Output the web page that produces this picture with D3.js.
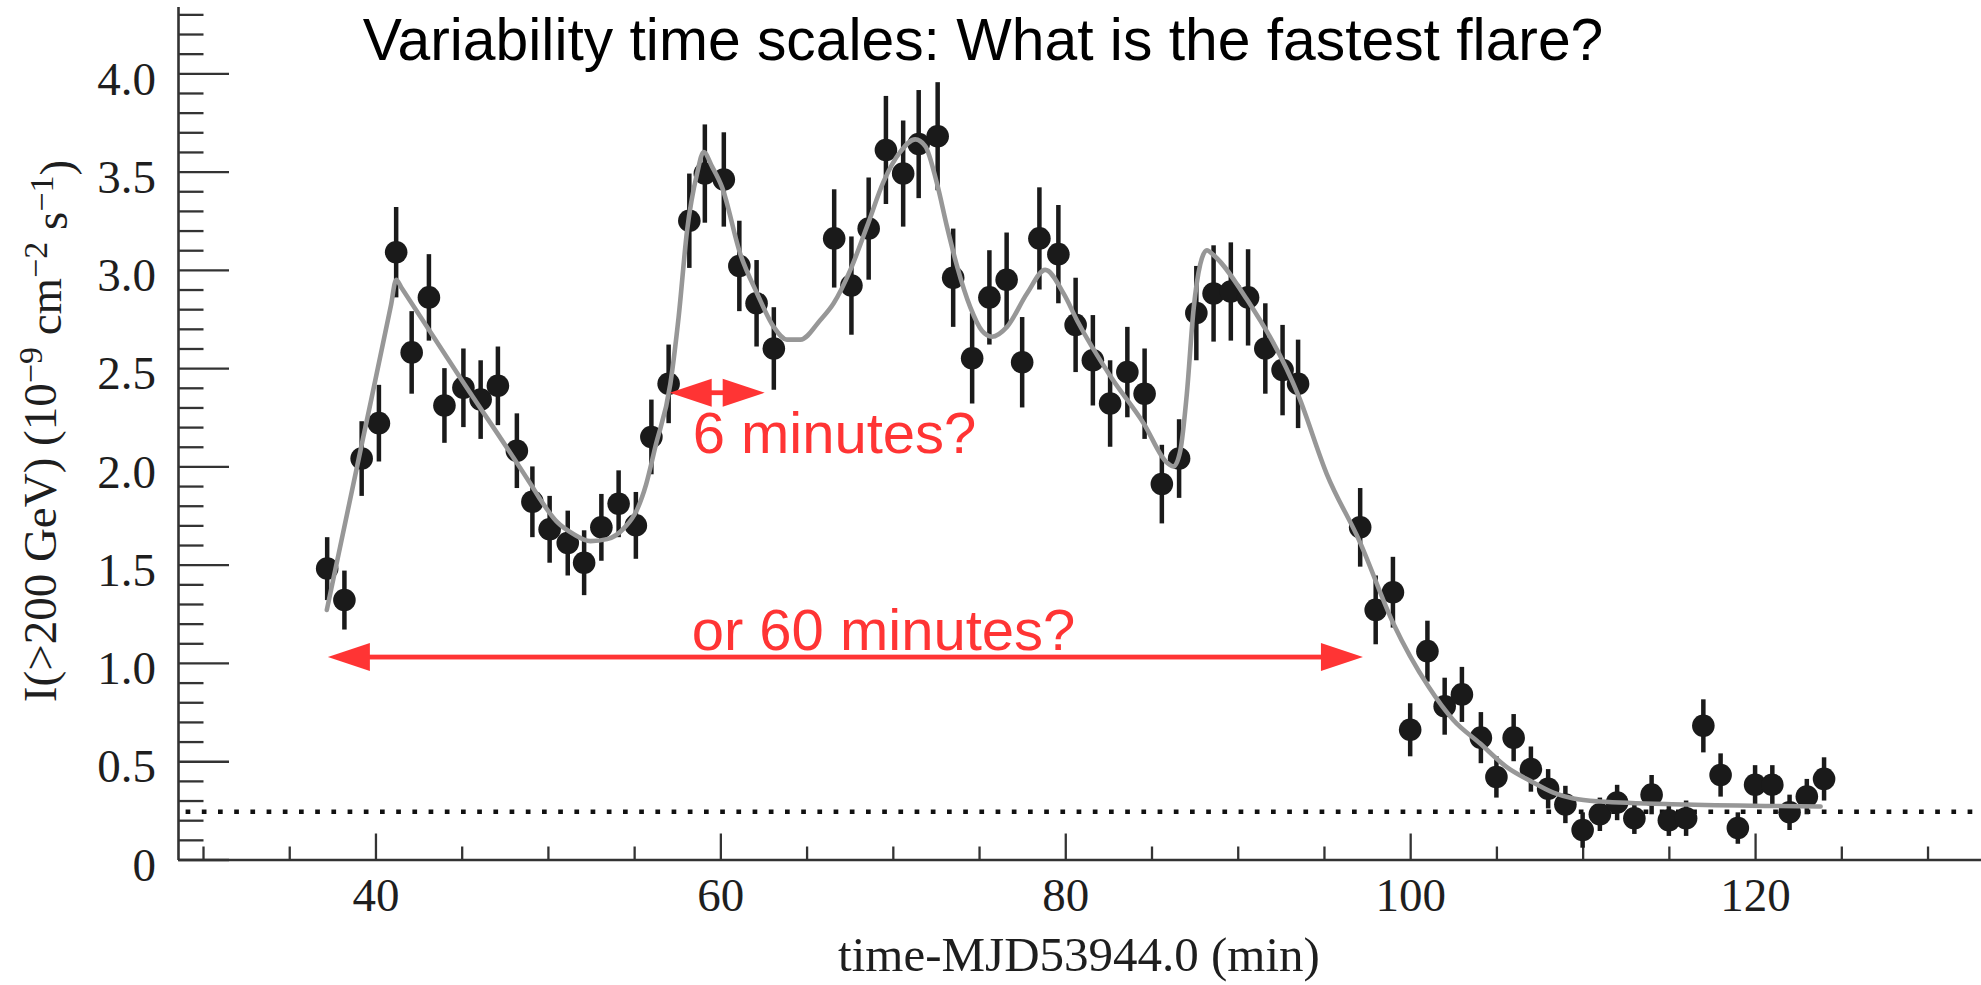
<!DOCTYPE html>
<html>
<head>
<meta charset="utf-8">
<script src="https://cdn.jsdelivr.net/npm/d3@7"></script>
<style>
  html, body { margin: 0; padding: 0; background: #fff; }
  svg { display: block; }
</style>
</head>
<body>
<svg id="chart" width="1981" height="985"></svg>
<script>
// One-minute binned integral flux above 200 GeV
const times = [
  37.2, 38.2, 39.2, 40.2, 41.2, 42.1, 43.1, 44.0, 45.1, 46.1, 47.1, 48.2, 49.1, 50.1,
  51.15, 52.1, 53.1, 54.1, 55.1, 56.0, 57.0, 58.2, 59.1, 60.2, 61.1, 62.1, 63.1,
  66.6, 67.6, 68.6, 69.6, 70.6, 71.5, 72.6, 73.5, 74.6, 75.6, 76.6, 77.5, 78.5, 79.6, 80.6,
  81.6, 82.6, 83.6, 84.6, 85.6, 86.6, 87.6, 88.6, 89.6, 90.6, 91.6, 92.6, 93.5,
  97.1, 98.0, 99.0, 100.0, 101.0, 102.0, 103.0, 104.1, 105.0, 106.0, 107.0, 108.0, 109.0, 110.0,
  111.0, 112.0, 113.0, 114.0, 115.0, 116.0, 117.0, 118.0, 119.0, 120.0, 121.0, 122.0, 123.0, 124.0
];
const flux = [
  1.48, 1.32, 2.04, 2.22, 3.09, 2.58, 2.86, 2.31, 2.40, 2.34, 2.41, 2.08, 1.82, 1.68,
  1.61, 1.51, 1.69, 1.81, 1.70, 2.15, 2.42, 3.25, 3.49, 3.46, 3.02, 2.83, 2.60,
  3.16, 2.92, 3.21, 3.61, 3.49, 3.64, 3.68, 2.96, 2.55, 2.86, 2.95, 2.53, 3.16, 3.08, 2.72,
  2.54, 2.32, 2.48, 2.37, 1.91, 2.04, 2.78, 2.88, 2.89, 2.86, 2.60, 2.49, 2.42,
  1.69, 1.27, 1.36, 0.66, 1.06, 0.78, 0.84, 0.62, 0.42, 0.62, 0.46, 0.36, 0.28, 0.15,
  0.23, 0.29, 0.21, 0.33, 0.20, 0.21, 0.68, 0.43, 0.16, 0.38, 0.38, 0.24, 0.32, 0.41
];
const fluxErr = [
  0.16, 0.15, 0.19, 0.195, 0.23, 0.21, 0.22, 0.19, 0.20, 0.20, 0.20, 0.19, 0.18, 0.17,
  0.165, 0.165, 0.17, 0.17, 0.17, 0.19, 0.20, 0.24, 0.25, 0.24, 0.23, 0.22, 0.21,
  0.25, 0.25, 0.26, 0.275, 0.27, 0.275, 0.275, 0.25, 0.23, 0.24, 0.24, 0.23, 0.26, 0.25, 0.24,
  0.23, 0.22, 0.23, 0.23, 0.20, 0.20, 0.24, 0.245, 0.25, 0.245, 0.23, 0.23, 0.225,
  0.20, 0.175, 0.18, 0.135, 0.155, 0.145, 0.14, 0.13, 0.105, 0.12, 0.115, 0.10, 0.095, 0.09,
  0.085, 0.09, 0.08, 0.10, 0.08, 0.09, 0.135, 0.11, 0.08, 0.10, 0.10, 0.09, 0.09, 0.11
];

// Multi-burst model curve
const fitTimes = [
  37.18, 39.2, 40.9, 41.2, 41.5, 45.0, 49.07, 49.57, 50.5, 51.5, 52.46, 53.43, 54.4, 55.17,
  55.7, 56.23, 57.1, 57.58, 58.07, 58.65, 59.03, 59.52, 60.1, 61.16, 62.13, 63.09, 63.86,
  64.64, 65.8, 66.57, 67.54, 68.5, 69.47, 70.43, 71.3, 71.88, 72.56, 73.14, 73.72, 74.49,
  75.17, 75.75, 76.62, 77.78, 78.84, 79.9, 80.7, 82.61, 84.54, 85.89, 86.28, 86.67, 87.05,
  87.44, 87.83, 88.21, 88.6, 90.53, 93.52, 95.17, 97.06, 99.03, 101.06, 102.5, 104.06,
  105.6, 106.96, 108.3, 109.47, 111.0, 116.0, 123.8
];
const fitFlux = [
  1.27, 2.11, 2.82, 2.95, 2.91, 2.44, 1.90, 1.83, 1.72, 1.655, 1.62, 1.63, 1.685, 1.78,
  1.91, 2.10, 2.42, 2.76, 3.20, 3.49, 3.60, 3.525, 3.42, 3.08, 2.88, 2.71, 2.645,
  2.645, 2.745, 2.83, 3.00, 3.22, 3.45, 3.60, 3.664, 3.63, 3.44, 3.22, 3.02, 2.81,
  2.69, 2.66, 2.71, 2.88, 3.00, 2.88, 2.74, 2.46, 2.22, 2.02, 2.00, 2.08, 2.37,
  2.80, 3.03, 3.10, 3.075, 2.85, 2.36, 1.96, 1.62, 1.20, 0.88, 0.71, 0.59,
  0.47, 0.40, 0.34, 0.31, 0.295, 0.28, 0.27
];

// Quiescent flux level (dotted)
const quiescentFlux = 0.243;

// Tick values
const xMajorTicks = [40, 60, 80, 100, 120];
const xMinorTicks = [30, 35, 45, 50, 55, 65, 70, 75, 85, 90, 95, 105, 110, 115, 125, 130];
const yMajorTicks = [0, 0.5, 1.0, 1.5, 2.0, 2.5, 3.0, 3.5, 4.0];
const yMinorTicks = [0.1, 0.2, 0.3, 0.4, 0.6, 0.7, 0.8, 0.9, 1.1, 1.2, 1.3, 1.4, 1.6, 1.7, 1.8, 1.9,
  2.1, 2.2, 2.3, 2.4, 2.6, 2.7, 2.8, 2.9, 3.1, 3.2, 3.3, 3.4, 3.6, 3.7, 3.8, 3.9, 4.1, 4.2, 4.3];

// Annotations: time spans (min) and the flux level they are drawn at
const shortSpan = [57.06, 62.57];
const shortLevel = 2.375;
const longSpan = [37.24, 97.26];
const longLevel = 1.03;

const titleText = "Variability time scales: What is the fastest flare?";
const shortLabel = "6 minutes?";
const longLabel = "or 60 minutes?";
const xTitle = "time-MJD53944.0 (min)";

// ---------------------------------------------------------------
const svg = d3.select("#chart");
const W = 1981, H = 985;
const axisLeftX = 178, axisBottomY = 859.5;

const xScale = d3.scaleLinear().domain([28.55, 133.1]).range([axisLeftX, W]);
const yScale = d3.scaleLinear().domain([0, 4.34]).range([axisBottomY, 6.5]);

const serif = "'Liberation Serif', 'Times New Roman', Times, serif";
const sans = "'Liberation Sans', Arial, Helvetica, sans-serif";
const axisColor = "#333";
const red = "#ff3434";

svg.append("rect").attr("width", W).attr("height", H).attr("fill", "#fff");

// Y axis
const yMajor = svg.append("g").attr("transform", `translate(${axisLeftX},0)`)
  .call(d3.axisLeft(yScale).tickValues(yMajorTicks).tickSize(-51).tickSizeOuter(0).tickPadding(22)
    .tickFormat(d => d === 0 ? "0" : d3.format(".1f")(d)));
const yMinor = svg.append("g").attr("transform", `translate(${axisLeftX},0)`)
  .call(d3.axisLeft(yScale).tickValues(yMinorTicks).tickSize(-25.5).tickFormat(""));
yMinor.select(".domain").remove();

// X axis
const xMajor = svg.append("g").attr("transform", `translate(0,${axisBottomY})`)
  .call(d3.axisBottom(xScale).tickValues(xMajorTicks).tickSize(-26).tickSizeOuter(0).tickPadding(18));
const xMinor = svg.append("g").attr("transform", `translate(0,${axisBottomY})`)
  .call(d3.axisBottom(xScale).tickValues(xMinorTicks).tickSize(-13).tickFormat(""));
xMinor.select(".domain").remove();

[yMajor, yMinor, xMajor, xMinor].forEach(g => {
  g.selectAll(".domain").attr("stroke", axisColor).attr("stroke-width", 2.6);
  g.selectAll(".tick line").attr("stroke", axisColor).attr("stroke-width", 2.3);
  g.selectAll("text").attr("font-family", serif).attr("font-size", 47).attr("fill", "#1e1e1e");
});
yMajor.selectAll("text").attr("dy", "0.44em");

// Axis titles
svg.append("text")
  .attr("x", 1079)
  .attr("y", 971)
  .attr("text-anchor", "middle")
  .attr("font-family", serif).attr("font-size", 49).attr("fill", "#1e1e1e")
  .text(xTitle);

const yTitle = svg.append("text")
  .attr("transform", "translate(56,431) rotate(-90)")
  .attr("text-anchor", "middle")
  .attr("font-family", serif).attr("font-size", 47).attr("fill", "#1e1e1e");
const supParts = [
  ["I(>200 GeV) (10", false],
  ["\u22129", true],
  [" cm", false],
  ["\u22122", true],
  [" s", false],
  ["\u22121", true],
  [")", false]
];
let raised = false;
supParts.forEach(([txt, sup]) => {
  const t = yTitle.append("tspan").text(txt);
  if (sup && !raised) { t.attr("dy", "-0.42em").attr("font-size", 34); raised = true; }
  else if (sup) { t.attr("font-size", 34); }
  else if (!sup && raised) { t.attr("dy", "0.42em"); raised = false; }
});

// Title
svg.append("text")
  .attr("x", 983).attr("y", 60)
  .attr("text-anchor", "middle")
  .attr("font-family", sans).attr("font-size", 58.8).attr("fill", "#000")
  .text(titleText);

// Quiescent level
svg.append("line")
  .attr("x1", 185.6).attr("x2", 1975)
  .attr("y1", yScale(quiescentFlux)).attr("y2", yScale(quiescentFlux))
  .attr("stroke", "#111").attr("stroke-width", 4.7)
  .attr("stroke-dasharray", "4.7 11.5");

// Data points with error bars
const pts = times.map((t, i) => ({ t, f: flux[i], e: fluxErr[i] }));
const gPts = svg.append("g");
gPts.selectAll("line.err").data(pts).join("line")
  .attr("class", "err")
  .attr("x1", d => xScale(d.t)).attr("x2", d => xScale(d.t))
  .attr("y1", d => yScale(d.f - d.e)).attr("y2", d => yScale(d.f + d.e))
  .attr("stroke", "#1a1a1a").attr("stroke-width", 4.5);
gPts.selectAll("circle").data(pts).join("circle")
  .attr("cx", d => xScale(d.t)).attr("cy", d => yScale(d.f))
  .attr("r", 11.3).attr("fill", "#1a1a1a");

// Model curve
const fit = fitTimes.map((t, i) => [t, fitFlux[i]]);
svg.append("path")
  .datum(fit)
  .attr("d", d3.line().x(d => xScale(d[0])).y(d => yScale(d[1])).curve(d3.curveMonotoneX))
  .attr("fill", "none").attr("stroke", "#979797").attr("stroke-width", 4.6)
  .attr("stroke-linejoin", "round").attr("stroke-linecap", "round");

// Red double arrows
const headLen = 42, headHalf = 14;
function doubleArrow(span, level) {
  const x0 = xScale(span[0]), x1 = xScale(span[1]), y = yScale(level);
  const g = svg.append("g").attr("fill", red).attr("stroke", "none");
  g.append("rect").attr("x", x0 + 10).attr("y", y - 2.4).attr("width", x1 - x0 - 20).attr("height", 4.8);
  g.append("path").attr("d", `M${x0},${y}L${x0 + headLen},${y - headHalf}L${x0 + headLen},${y + headHalf}Z`);
  g.append("path").attr("d", `M${x1},${y}L${x1 - headLen},${y - headHalf}L${x1 - headLen},${y + headHalf}Z`);
}
doubleArrow(longSpan, longLevel);
doubleArrow(shortSpan, shortLevel);

// Red labels
svg.append("text")
  .attr("x", xScale(shortSpan[0]) + 23).attr("y", yScale(shortLevel) + 60)
  .attr("font-family", sans).attr("font-size", 58).attr("fill", red)
  .text(shortLabel);
svg.append("text")
  .attr("x", xScale(shortSpan[0]) + 22).attr("y", yScale(longLevel) - 7)
  .attr("font-family", sans).attr("font-size", 58).attr("fill", red)
  .text(longLabel);
</script>
</body>
</html>
